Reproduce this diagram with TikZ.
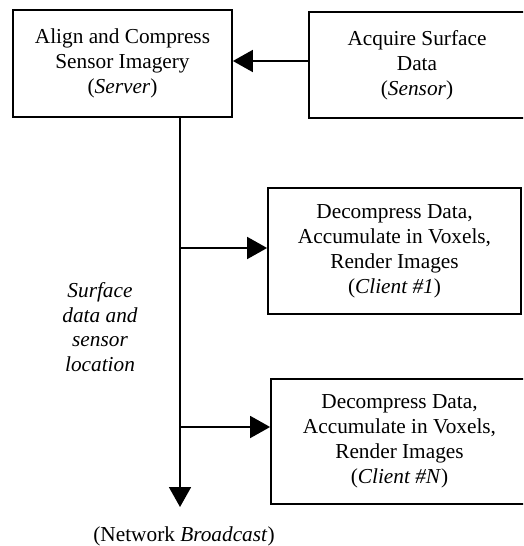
\documentclass[tikz,border=0pt]{standalone}
\usepackage{fontspec}
\setmainfont{Liberation Serif}
\usetikzlibrary{arrows.meta}
\begin{document}
\begin{tikzpicture}[x=1pt,y=-1pt,
  box/.style={draw,line width=1.8pt,align=center,inner sep=0pt,
    font=\fontsize{21.3}{25}\selectfont},
  lbl/.style={align=center,inner sep=0pt,font=\fontsize{21.3}{24.5}\selectfont},
  conn/.style={line width=1.8pt,-{Triangle[length=20pt,width=22pt]}}]
\useasboundingbox[fill=white] (0,0) rectangle (523,546);
\clip (0,0) rectangle (523,546);
\node[box,minimum width=219pt,minimum height=107pt] (server) at (122.5,63.5)
  {Align and Compress\\Sensor Imagery\\(\textit{Server})};
\node[box,minimum width=216pt,minimum height=106pt] (sensor) at (417,65)
  {Acquire Surface\\Data\\(\textit{Sensor})};
\node[box,minimum width=253pt,minimum height=126pt] (client1) at (394.5,251)
  {Decompress Data,\\Accumulate in Voxels,\\Render Images\\(\textit{Client \#1})};
\node[box,minimum width=257pt,minimum height=125pt] (clientn) at (399.5,441.5)
  {Decompress Data,\\Accumulate in Voxels,\\Render Images\\(\textit{Client \#N})};
\node[lbl] (data) at (100,327) {\itshape Surface\\\itshape data and\\\itshape sensor\\\itshape location};
\node[lbl] (net) at (184,536) {(Network \textit{Broadcast})};
\coordinate (bc) at (180,507);
\coordinate (p1) at ([yshift=4pt]sensor.west);
\coordinate (p2) at ([yshift=3pt]client1.west);
\coordinate (p3) at ([yshift=14.5pt]clientn.west);
\draw[conn] (p1) -- (p1 -| server.east);
\draw[conn] (server.south -| bc) -- (bc);
\draw[conn] (p2 -| bc) -- (p2);
\draw[conn] (p3 -| bc) -- (p3);
\end{tikzpicture}
\end{document}
